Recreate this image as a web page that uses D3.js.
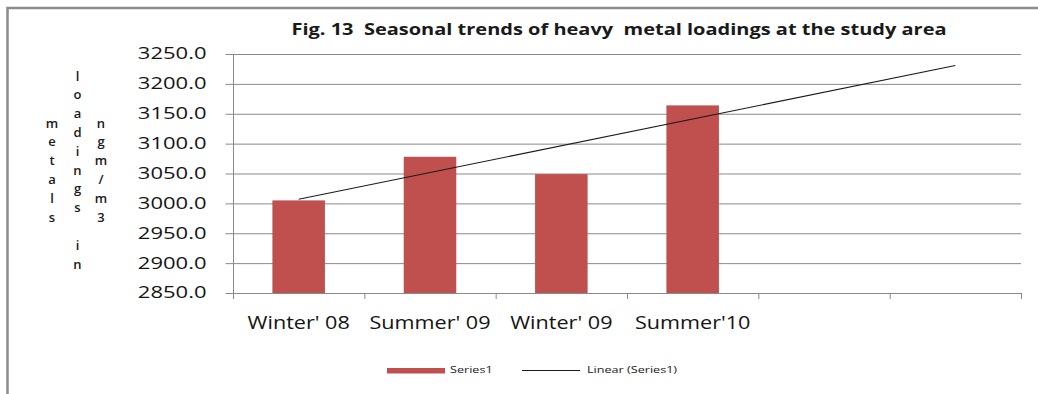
<!DOCTYPE html>
<html>
<head>
<meta charset="utf-8">
<script src="https://cdn.jsdelivr.net/npm/d3@7"></script>
<style>
  body { margin: 0; background: #fff; }
  svg { display: block; font-family: "Open Sans", "Noto Sans", sans-serif; }
</style>
</head>
<body>
<div id="chart"></div>
<script>
// data
const categories = ["Winter' 08", "Summer' 09", "Winter' 09", "Summer'10"]
const values = [3005, 3078, 3049, 3164]
const forecastSlots = 2   // trendline is projected two periods forward
const yTicks = [2850, 2900, 2950, 3000, 3050, 3100, 3150, 3200, 3250]
const yTitleCols = ["metals", "loadings in", "ngm/m3"]
const title = "Fig. 13  Seasonal trends of heavy  metal loadings at the study area"

const width = 1038, height = 394
const svg = d3.select("#chart").append("svg")
    .attr("width", width).attr("height", height)
    .attr("viewBox", `0 0 ${width} ${height}`)

svg.append("rect").attr("width", width).attr("height", height).attr("fill", "#fff")

// chart frame (only top + left edges visible)
svg.append("path")
    .attr("d", `M7.5,${height} V8 H${width}`)
    .attr("fill", "none").attr("stroke", "#8c8c8c").attr("stroke-width", 2.5)

const plot = {left: 233, right: 1021, top: 54, bottom: 293}

const slots = d3.range(categories.length + forecastSlots)
const x = d3.scaleBand().domain(slots).range([plot.left, plot.right]).padding(0)
const barW = x.bandwidth() * 0.4
const y = d3.scaleLinear().domain([2850, 3250]).range([plot.bottom, plot.top])

// gridlines
svg.append("g").selectAll("line")
    .data(yTicks.slice(1))
    .join("line")
    .attr("x1", plot.left).attr("x2", plot.right)
    .attr("y1", d => y(d) + 0.5).attr("y2", d => y(d) + 0.5)
    .attr("stroke", "#8a8a8a").attr("stroke-width", 1)

// bars
svg.append("g").selectAll("rect")
    .data(values)
    .join("rect")
    .attr("x", (d, i) => x(i) + (x.bandwidth() - barW) / 2)
    .attr("width", barW)
    .attr("y", d => y(d))
    .attr("height", d => y(2850) - y(d))
    .attr("fill", "#c0504d")

// linear trendline (least squares on the series, extended forward)
const xs = values.map((d, i) => i + 1)
const mx = d3.mean(xs), my = d3.mean(values)
const slope = d3.sum(xs, (xv, i) => (xv - mx) * (values[i] - my)) / d3.sum(xs, xv => (xv - mx) ** 2)
const icpt = my - slope * mx
const trend = [0, slots.length - 1].map(i => ({i, v: icpt + slope * (i + 1)}))
svg.append("path")
    .datum(trend)
    .attr("d", d3.line().x(d => x(d.i) + x.bandwidth() / 2).y(d => y(d.v)))
    .attr("fill", "none").attr("stroke", "#1a1a1a").attr("stroke-width", 1.1)

// y axis
const sxY = 1.42
const yAxis = svg.append("g")
    .attr("transform", `translate(${plot.left + 0.5},0)`)
    .call(d3.axisLeft(y).tickValues(yTicks).tickSize(8).tickFormat(d3.format(".1f")))
yAxis.select(".domain").attr("d", `M0,${plot.top}V${plot.bottom + 6}`).attr("stroke", "#8a8a8a")
yAxis.selectAll(".tick line").attr("stroke", "#8a8a8a")
yAxis.selectAll(".tick text")
    .attr("x", -27 / sxY)
    .attr("transform", `scale(${sxY},1)`)
    .attr("font-size", 15.5)
    .attr("font-family", "'Open Sans', sans-serif")
    .attr("fill", "#141414")

// x axis line + ticks at category boundaries
const xAxis = svg.append("g")
xAxis.append("line")
    .attr("x1", plot.left).attr("x2", plot.right + 1)
    .attr("y1", plot.bottom + 0.5).attr("y2", plot.bottom + 0.5)
    .attr("stroke", "#8a8a8a")
xAxis.selectAll(".xt")
    .data(slots.concat([slots.length]))
    .join("line")
    .attr("class", "xt")
    .attr("x1", i => (i < slots.length ? x(i) : plot.right) + 0.5)
    .attr("x2", i => (i < slots.length ? x(i) : plot.right) + 0.5)
    .attr("y1", plot.bottom).attr("y2", plot.bottom + 6)
    .attr("stroke", "#8a8a8a")

// category labels
const sxX = 1.2
svg.append("g").selectAll("g")
    .data(categories)
    .join("g")
    .attr("transform", (d, i) => `translate(${x(i) + x.bandwidth() / 2},329) scale(${sxX},1)`)
    .append("text")
    .attr("text-anchor", "middle")
    .attr("font-size", 18)
    .attr("fill", "#141414")
    .text(d => d)

// title, stretched to the width it has in the picture
const tg = svg.append("g")
const tt = tg.append("text")
    .attr("text-anchor", "middle")
    .attr("font-size", 15.5)
    .attr("font-weight", "bold")
    .attr("fill", "#1a1a1a")
    .style("white-space", "pre")
    .text(title)
const tw = tt.node().getComputedTextLength()
tg.attr("transform", `translate(619,35) scale(${656 / tw},1)`)

// stacked vertical y-axis title
const colX = [52, 77.5, 101]
const step = 18.8, midY = 170
yTitleCols.forEach((s, c) => {
    const chars = s.split("")
    svg.append("g").selectAll("text")
        .data(chars)
        .join("text")
        .attr("x", colX[c])
        .attr("y", (d, i) => midY + (i - (chars.length - 1) / 2) * step)
        .attr("dy", "0.35em")
        .attr("text-anchor", "middle")
        .attr("font-size", 13)
        .attr("font-weight", 600)
        .attr("fill", "#1a1a1a")
        .text(d => d)
})

// legend
const sxL = 1.33
const leg = svg.append("g")
leg.append("rect").attr("x", 387).attr("y", 368).attr("width", 58).attr("height", 5.5).attr("fill", "#c0504d")
leg.append("g").attr("transform", `translate(450,370) scale(${sxL},1)`)
    .append("text").attr("dy", "0.35em").attr("font-size", 9.5).attr("fill", "#1a1a1a").text("Series1")
leg.append("line").attr("x1", 522).attr("x2", 580).attr("y1", 370.5).attr("y2", 370.5)
    .attr("stroke", "#1a1a1a").attr("stroke-width", 1.1)
leg.append("g").attr("transform", `translate(587,370) scale(${sxL},1)`)
    .append("text").attr("dy", "0.35em").attr("font-size", 9.5).attr("fill", "#1a1a1a").text("Linear (Series1)")
</script>
</body>
</html>
